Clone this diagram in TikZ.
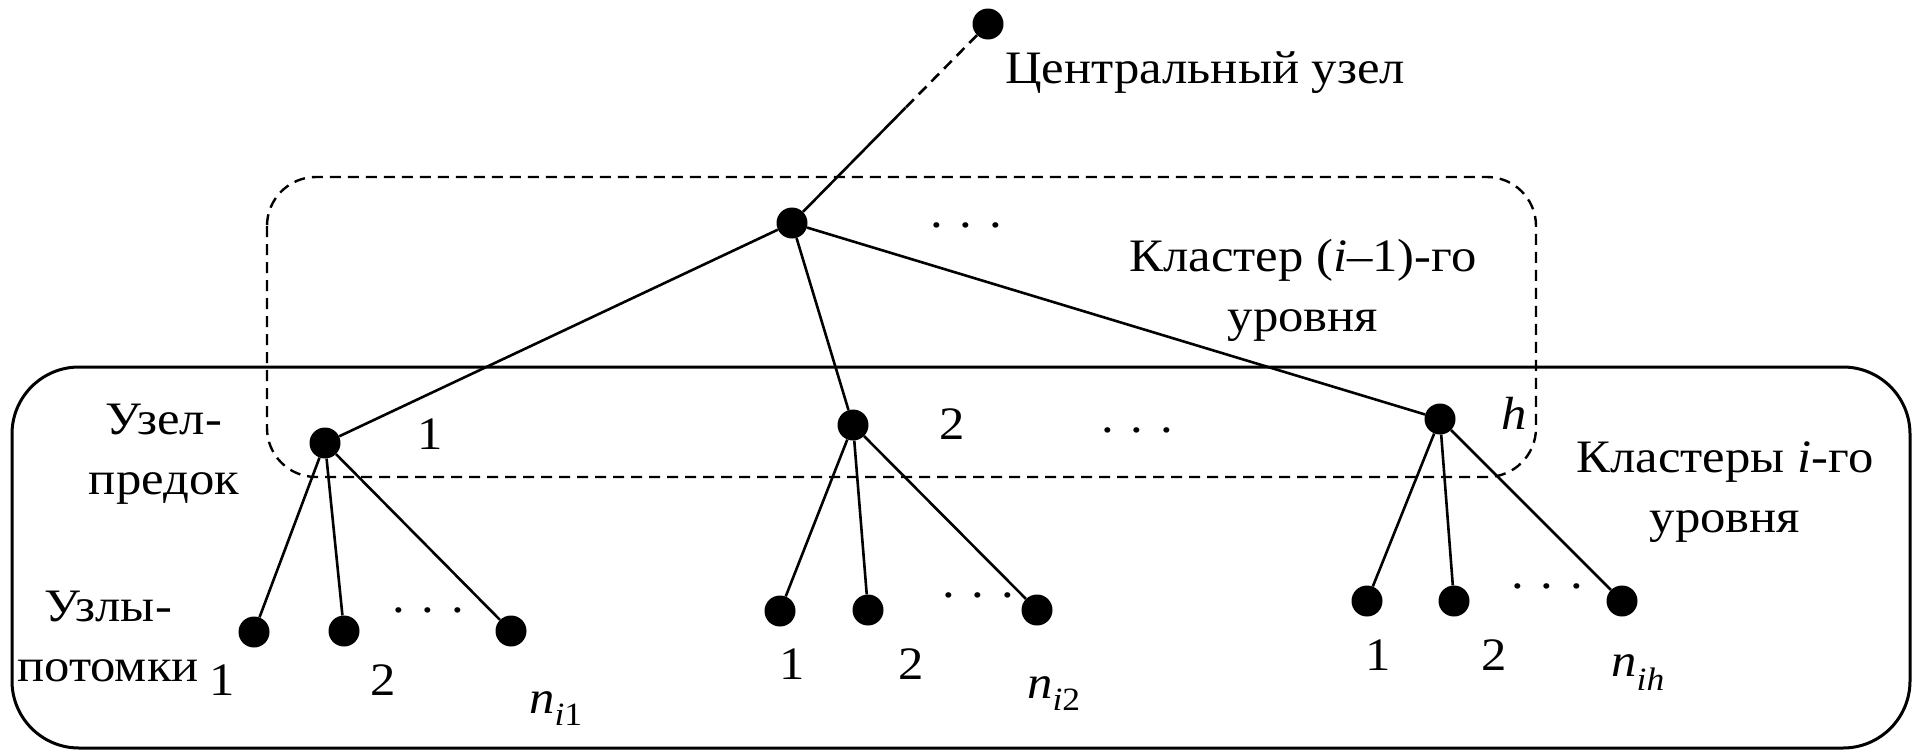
\documentclass[tikz,border=0pt]{standalone}
\usepackage{fontspec}
\setmainfont{Liberation Serif}[FakeStretch=1.09]
\usetikzlibrary{calc}
\begin{document}
\begin{tikzpicture}[x=1pt,y=-1pt,
  dot/.style={circle,fill=black,inner sep=0pt,minimum size=31pt},
  edge/.style={line width=2.6pt},
  lbl/.style={inner sep=0pt,font=\fontsize{46.5}{60}\selectfont},
  frame/.style={line width=3pt,rounded corners=67pt},
  dframe/.style={line width=2.4pt,dash pattern=on 11pt off 7pt,rounded corners=49pt}]
\useasboundingbox (0,0) rectangle (1917,755);
% cluster frames
\draw[frame] (12,367) rectangle (1910,748);
\draw[dframe] (267,177) rectangle (1536,477);
% nodes
\node[dot] (c) at (988,24) {};
\node[dot] (t) at (792,223) {};
\node[dot] (a) at (325,443) {};
\node[dot] (b) at (853,425) {};
\node[dot] (h) at (1440,419) {};
\node[dot] (a1) at (254,632) {};
\node[dot] (a2) at (344,631) {};
\node[dot] (an) at (511,631) {};
\node[dot] (b1) at (780,611) {};
\node[dot] (b2) at (868,610) {};
\node[dot] (bn) at (1037,610) {};
\node[dot] (h1) at (1367,601) {};
\node[dot] (h2) at (1454,601) {};
\node[dot] (hn) at (1622,601) {};
\coordinate (cm) at ($(c)!0.42!(t)$);
% connectors
\draw[edge,dash pattern=on 11pt off 7pt] (c) -- (cm);
\draw[edge] (cm) -- (t);
\draw[edge] (t) -- (a);
\draw[edge] (t) -- (b);
\draw[edge] (t) -- (h);
\foreach \p in {a,b,h}{
  \draw[edge] (\p) -- (\p1);
  \draw[edge] (\p) -- (\p2);
  \draw[edge] (\p) -- (\p n);
}
% labels
\node[lbl,anchor=base west] (lc) at (1005,83) {Центральный узел};
\node[lbl,align=center] (lk) at (1303,290) {Кластер (\textit{i}–1)-го\\уровня};
\node[lbl,align=center] (lks) at (1725,492) {Кластеры \textit{i}-го\\уровня};
\node[lbl,align=center] (lp) at (164,454) {Узел-\\предок};
\node[lbl,align=center] (ld) at (108,636) {Узлы-\\потомки};
\node[lbl] (td) at (966,225) {. . .};
\node[lbl] (md) at (1137,430) {. . .};
\node[lbl] (ad) at (428,610) {. . .};
\node[lbl] (bd) at (978,595) {. . .};
\node[lbl] (hd) at (1547,586) {. . .};
\node[lbl] (la) at (430,434) {1};
\node[lbl] (lb) at (952,424) {2};
\node[lbl] (lh) at (1514,413) {\textit{h}};
\node[lbl] (la1) at (222,680) {1};
\node[lbl] (la2) at (383,680) {2};
\node[lbl,anchor=base] (lan) at (556,713) {\textit{n}\textsubscript{\textit{i}1}};
\node[lbl] (lb1) at (792,664) {1};
\node[lbl] (lb2) at (911,664) {2};
\node[lbl,anchor=base] (lbn) at (1054,698) {\textit{n}\textsubscript{\textit{i}2}};
\node[lbl] (lh1) at (1378,655) {1};
\node[lbl] (lh2) at (1494,655) {2};
\node[lbl,anchor=base] (lhn) at (1638,676) {\textit{n}\textsubscript{\textit{ih}}};
\end{tikzpicture}
\end{document}
